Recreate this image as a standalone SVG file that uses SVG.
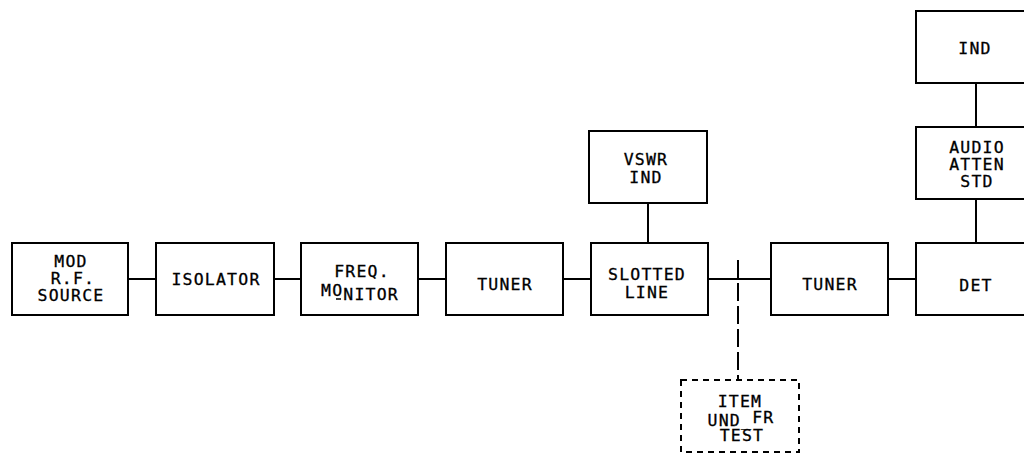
<svg xmlns="http://www.w3.org/2000/svg" width="1024" height="453" viewBox="0 0 1024 453">
<style>
rect{fill:#fff;stroke:#000;stroke-width:2}
.dash{stroke-dasharray:6 5}
line{stroke:#000;stroke-width:2}
text{font-family:"DejaVu Sans Mono","Liberation Mono",monospace;font-size:16.5px;letter-spacing:1.2px;text-anchor:middle;fill:#000;stroke:#000;stroke-width:0.3}
</style>
<rect width="1024" height="453" style="stroke:none"/>
<g id="connectors">
<line x1="128" y1="279" x2="156" y2="279"/>
<line x1="274" y1="279" x2="301" y2="279"/>
<line x1="418" y1="279" x2="446" y2="279"/>
<line x1="563" y1="279" x2="591" y2="279"/>
<line x1="708" y1="279" x2="771" y2="279"/>
<line x1="888" y1="279" x2="916" y2="279"/>
<line x1="648" y1="203" x2="648" y2="247"/>
<line x1="976" y1="83" x2="976" y2="127"/>
<line x1="976" y1="199" x2="976" y2="243"/>
<line x1="738" y1="260" x2="738" y2="386" stroke-dasharray="18 5"/>
</g>
<g id="mod"><rect x="12" y="243" width="116" height="72"/><text x="71" y="267">MOD</text><text x="73" y="284">R.F.</text><text x="71" y="301">SOURCE</text></g>
<g id="isolator"><rect x="156" y="243" width="118" height="72"/><text x="216" y="285">ISOLATOR</text></g>
<g id="freq"><rect x="301" y="243" width="117" height="72"/><text x="362" y="277">FREQ.</text><text x="360" y="300"><tspan dy="-4">MO</tspan><tspan dy="4">NITOR</tspan></text><line x1="336" y1="299" x2="341" y2="299" style="stroke-width:1.5"/></g>
<g id="tuner1"><rect x="446" y="243" width="117" height="72"/><text x="505" y="290">TUNER</text></g>
<g id="slotted"><rect x="591" y="243" width="117" height="72"/><text x="647" y="280">SLOTTED</text><text x="647" y="298">LINE</text></g>
<g id="vswr"><rect x="589" y="131" width="118" height="72"/><text x="646" y="165">VSWR</text><text x="646" y="183">IND</text></g>
<g id="tuner2"><rect x="771" y="243" width="117" height="72"/><text x="830" y="290">TUNER</text></g>
<g id="det"><rect x="916" y="243" width="120" height="72"/><text x="976" y="291">DET</text></g>
<g id="audio"><rect x="916" y="127" width="120" height="72"/><text x="977" y="153">AUDIO</text><text x="977" y="170">ATTEN</text><text x="977" y="187">STD</text></g>
<g id="ind"><rect x="916" y="11" width="120" height="72"/><text x="975" y="54">IND</text></g>
<g id="item"><rect x="681" y="380" width="118" height="72" class="dash"/><text x="740" y="407">ITEM</text><text x="741" y="426">UND_<tspan dy="-3">FR</tspan></text><text x="742" y="441">TEST</text></g>
</svg>
